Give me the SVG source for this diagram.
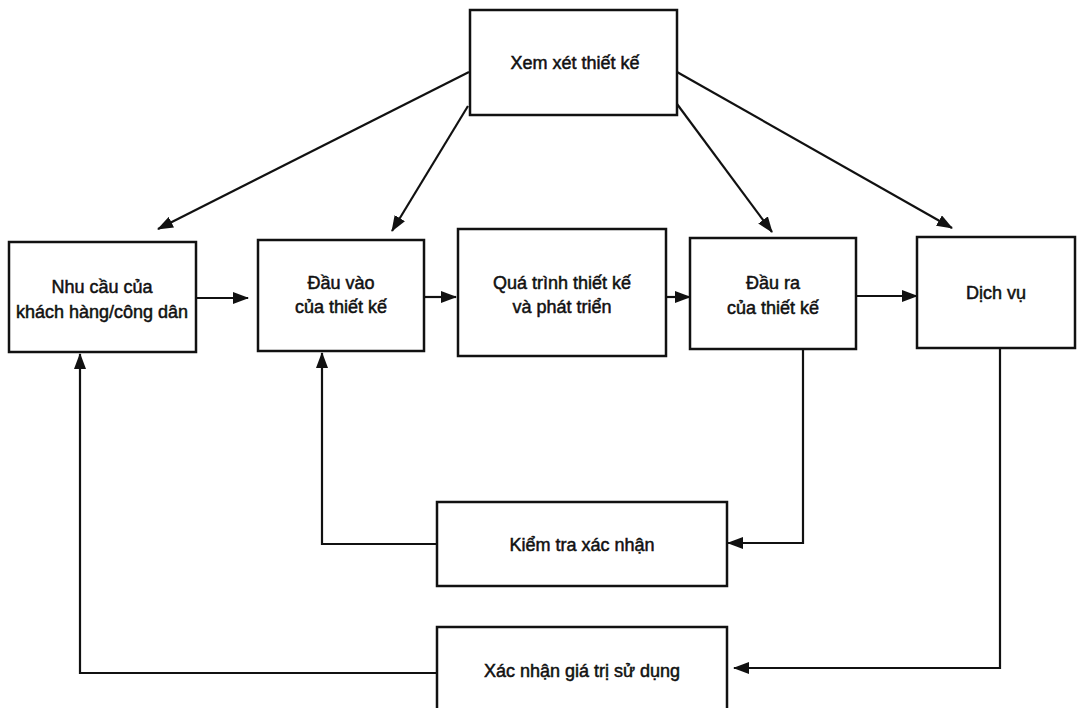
<svg xmlns="http://www.w3.org/2000/svg" width="1080" height="708" viewBox="0 0 1080 708">
<style>
.box{fill:#fff;stroke:#111;stroke-width:2.5}
.t{font-family:"Liberation Sans",Arial,sans-serif;font-size:18px;fill:#111;text-anchor:middle;stroke:#111;stroke-width:0.5}
.c{fill:none;stroke:#111;stroke-width:2.2}
</style>
<defs>
<marker id="ah" markerUnits="userSpaceOnUse" markerWidth="16" markerHeight="12" refX="15" refY="6" orient="auto">
<path d="M0,0 L16,6 L0,12 Z" fill="#111"/>
</marker>
</defs>
<rect width="1080" height="708" fill="#fff"/>
<g id="connectors">
<line class="c" x1="469" y1="72" x2="158" y2="229" marker-end="url(#ah)"/>
<line class="c" x1="468" y1="106" x2="392" y2="231" marker-end="url(#ah)"/>
<line class="c" x1="677" y1="104" x2="772" y2="232" marker-end="url(#ah)"/>
<line class="c" x1="677" y1="72" x2="952" y2="228" marker-end="url(#ah)"/>
<line class="c" x1="196" y1="298" x2="248" y2="298" marker-end="url(#ah)"/>
<line class="c" x1="424" y1="297" x2="456" y2="297" marker-end="url(#ah)"/>
<line class="c" x1="666" y1="297" x2="690" y2="297" marker-end="url(#ah)"/>
<line class="c" x1="856" y1="296" x2="917" y2="296" marker-end="url(#ah)"/>
<polyline class="c" points="803,349 803,543 728,543" marker-end="url(#ah)"/>
<polyline class="c" points="1000,348 1000,668 734,668" marker-end="url(#ah)"/>
<polyline class="c" points="437,544 322,544 322,353" marker-end="url(#ah)"/>
<polyline class="c" points="437,673 80,673 80,354" marker-end="url(#ah)"/>
</g>
<g id="review">
<rect class="box" x="470" y="10" width="207" height="105"/>
<text class="t" x="575" y="69">Xem xét thiết kế</text>
</g>
<g id="needs">
<rect class="box" x="9" y="242" width="187" height="110"/>
<text class="t" x="102" y="293">Nhu cầu của</text>
<text class="t" x="102" y="318">khách hàng/công dân</text>
</g>
<g id="input">
<rect class="box" x="258" y="240" width="166" height="111"/>
<text class="t" x="341" y="289">Đầu vào</text>
<text class="t" x="341" y="313">của thiết kế</text>
</g>
<g id="process">
<rect class="box" x="458" y="229" width="208" height="127"/>
<text class="t" x="562" y="289">Quá trình thiết kế</text>
<text class="t" x="562" y="313">và phát triển</text>
</g>
<g id="output">
<rect class="box" x="690" y="238" width="166" height="111"/>
<text class="t" x="773" y="289">Đầu ra</text>
<text class="t" x="773" y="314">của thiết kế</text>
</g>
<g id="service">
<rect class="box" x="917" y="237" width="158" height="111"/>
<text class="t" x="996" y="299">Dịch vụ</text>
</g>
<g id="verification">
<rect class="box" x="437" y="502" width="290" height="84"/>
<text class="t" x="582" y="551">Kiểm tra xác nhận</text>
</g>
<g id="validation">
<rect class="box" x="437" y="627" width="290" height="84"/>
<text class="t" x="582" y="677">Xác nhận giá trị sử dụng</text>
</g>
</svg>
